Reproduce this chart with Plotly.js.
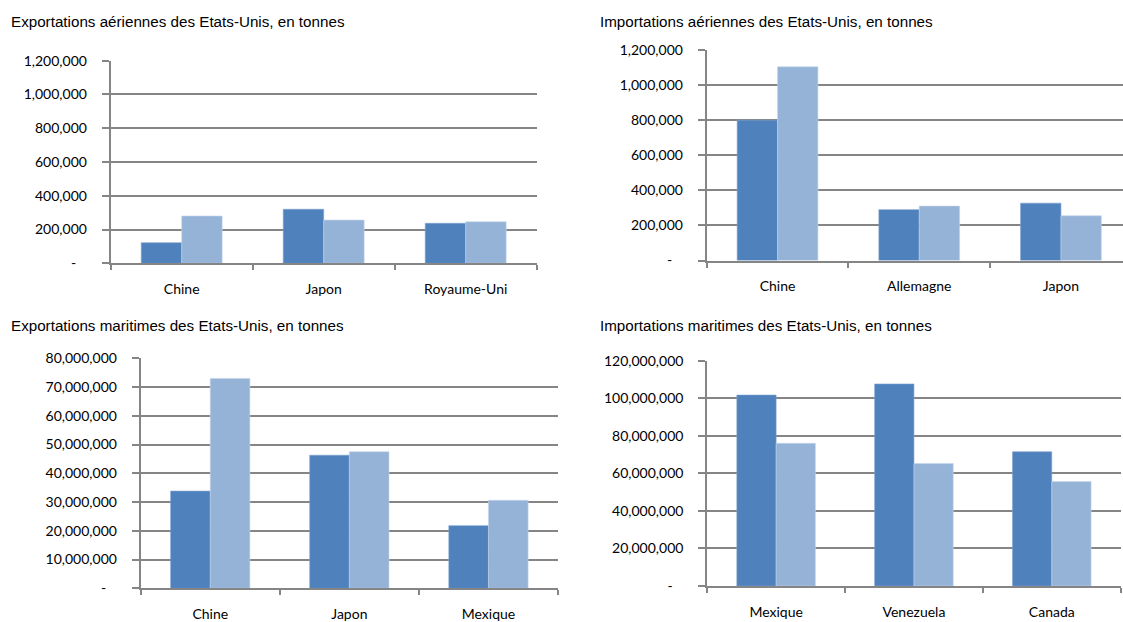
<!DOCTYPE html>
<html>
<head>
<meta charset="utf-8">
<script src="https://cdn.plot.ly/plotly-3.0.1.min.js"></script>
<style>
html,body{margin:0;padding:0;background:#fff;}
#chart{width:1123px;height:622px;}
</style>
</head>
<body>
<div id="chart"></div>
<script>
// ---- Data ----
const titles = [
  "Exportations aériennes des Etats-Unis, en tonnes",
  "Importations aériennes des Etats-Unis, en tonnes",
  "Exportations maritimes des Etats-Unis, en tonnes",
  "Importations maritimes des Etats-Unis, en tonnes"
];

const cat1 = ["Chine", "Japon", "Royaume-Uni"];
const exAirA = [122000, 320000, 237000];
const exAirB = [280000, 256000, 246000];

const cat2 = ["Chine", "Allemagne", "Japon"];
const imAirA = [800000, 290000, 327000];
const imAirB = [1104000, 310000, 255000];

const cat3 = ["Chine", "Japon", "Mexique"];
const exSeaA = [33800000, 46300000, 21800000];
const exSeaB = [73000000, 47500000, 30600000];

const cat4 = ["Mexique", "Venezuela", "Canada"];
const imSeaA = [101700000, 107600000, 71500000];
const imSeaB = [76000000, 65200000, 55600000];

const airTickVals = [0, 200000, 400000, 600000, 800000, 1000000, 1200000];
const airTickText = ["-\u00a0\u00a0\u00a0", "200,000", "400,000", "600,000", "800,000", "1,000,000", "1,200,000"];
const exSeaTickVals = [0, 10000000, 20000000, 30000000, 40000000, 50000000, 60000000, 70000000, 80000000];
const exSeaTickText = ["-\u00a0\u00a0\u00a0", "10,000,000", "20,000,000", "30,000,000", "40,000,000", "50,000,000", "60,000,000", "70,000,000", "80,000,000"];
const imSeaTickVals = [0, 20000000, 40000000, 60000000, 80000000, 100000000, 120000000];
const imSeaTickText = ["-\u00a0\u00a0\u00a0", "20,000,000", "40,000,000", "60,000,000", "80,000,000", "100,000,000", "120,000,000"];

// ---- Styles ----
const W = 1123, H = 622;
const DARK = "#4F81BD", LIGHT = "#95B3D7";
const GRAY = "#858585";
const tickFont = {family: "Lato, 'Open Sans', sans-serif", size: 14, color: "#000"};

function bars(x, a, b, n) {
  const xa = n === 1 ? "x" : "x" + n, ya = n === 1 ? "y" : "y" + n;
  return [
    {type: "bar", x: x, y: a, xaxis: xa, yaxis: ya, marker: {color: DARK, line: {width: 0.6, color: "#7fa3d0"}}, showlegend: false, hoverinfo: "x+y"},
    {type: "bar", x: x, y: b, xaxis: xa, yaxis: ya, marker: {color: LIGHT, line: {width: 0.6, color: "#c3d5ec"}}, showlegend: false, hoverinfo: "x+y"}
  ];
}

function xAx(left, right, range) {
  const ax = {
    domain: [left / W, right / W], type: "category",
    showline: true, linecolor: GRAY, linewidth: 2,
    ticks: "outside", tickson: "boundaries", ticklen: 5, tickwidth: 2, tickcolor: GRAY,
    showgrid: false, zeroline: false, tickfont: tickFont, ticklabelstandoff: 12,
    fixedrange: true
  };
  if (range) { ax.range = range; ax.autorange = false; }
  return ax;
}
function yAx(top, bottom, maxV, vals, text) {
  return {
    domain: [1 - bottom / H, 1 - top / H], range: [0, maxV], autorange: false,
    showline: true, linecolor: GRAY, linewidth: 2,
    ticks: "outside", ticklen: 7, tickwidth: 2, tickcolor: GRAY,
    showgrid: true, gridcolor: GRAY, gridwidth: 2, zeroline: false,
    tickmode: "array", tickvals: vals, ticktext: text,
    tickfont: tickFont, ticklabelstandoff: 12, fixedrange: true
  };
}

const data = [].concat(
  bars(cat1, exAirA, exAirB, 1),
  bars(cat2, imAirA, imAirB, 2),
  bars(cat3, exSeaA, exSeaB, 3),
  bars(cat4, imSeaA, imSeaB, 4)
);

function titleAnn(text, x, y) {
  return {text: text, xref: "paper", yref: "paper", x: x / W, y: 1 - y / H,
    xanchor: "left", yanchor: "middle", showarrow: false,
    font: {family: "'Liberation Sans', Arial, sans-serif", size: 15.2, color: "#000"}};
}

const layout = {
  width: W, height: H,
  margin: {l: 0, r: 0, t: 0, b: 0},
  paper_bgcolor: "#fff", plot_bgcolor: "#fff",
  barmode: "group", bargap: 0.43, bargroupgap: 0,
  showlegend: false,
  xaxis: xAx(110.7, 536.7),
  yaxis: yAx(60.7, 263.3, 1200000, airTickVals, airTickText),
  xaxis2: Object.assign(xAx(706.7, 1123, [-0.5, 2.438]), {anchor: "y2"}),
  yaxis2: Object.assign(yAx(50, 260.5, 1200000, airTickVals, airTickText), {anchor: "x2"}),
  xaxis3: Object.assign(xAx(140.7, 558), {anchor: "y3"}),
  yaxis3: Object.assign(yAx(358.3, 588.3, 80000000, exSeaTickVals, exSeaTickText), {anchor: "x3"}),
  xaxis4: Object.assign(xAx(707.2, 1120.7), {anchor: "y4"}),
  yaxis4: Object.assign(yAx(360.7, 586, 120000000, imSeaTickVals, imSeaTickText), {anchor: "x4"}),
  annotations: [
    titleAnn(titles[0], 9, 22),
    titleAnn(titles[1], 598, 22),
    titleAnn(titles[2], 9, 325),
    titleAnn(titles[3], 598, 325)
  ]
};
layout.xaxis.anchor = "y";
layout.yaxis.anchor = "x";

Plotly.newPlot("chart", data, layout, {displayModeBar: false, staticPlot: true});
</script>
</body>
</html>
